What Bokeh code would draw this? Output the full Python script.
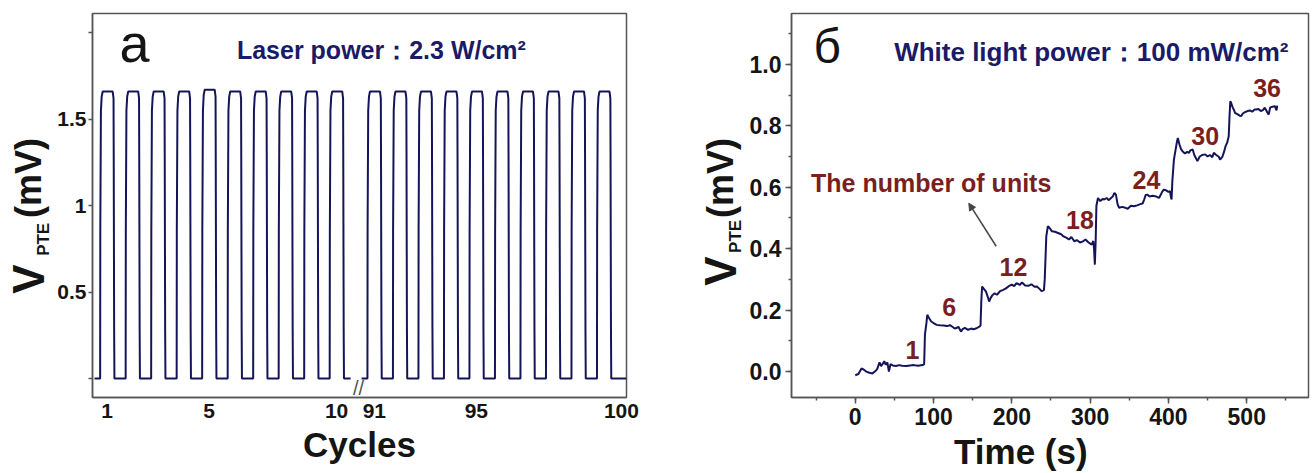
import math
from bokeh.plotting import figure
from bokeh.layouts import row
from bokeh.models import (Range1d, FixedTicker, Arrow, NormalHead,
                          SingleIntervalTicker, NumeralTickFormatter)
from bokeh.core.properties import value
from bokeh.embed import file_html
from bokeh.resources import INLINE

# ---------------- data: panel a (square-wave cycling) ----------------
left_cycles = [1, 2, 3, 4, 5, 6, 7, 8, 9, 10]
right_cycles = [91, 92, 93, 94, 95, 96, 97, 98, 99, 100]
left_on_mv = [1.66, 1.66, 1.66, 1.66, 1.67, 1.66, 1.66, 1.66, 1.66, 1.66]
right_on_mv = [1.66, 1.66, 1.66, 1.66, 1.66, 1.66, 1.66, 1.66, 1.66, 1.66]
off_mv = 0.0
xtick_cycles = [1, 5, 10, 91, 95, 100]
xtick_labels_a = ["1", "5", "10", "91", "95", "100"]
ytick_a = [0.5, 1, 1.5]
ytick_a_labels = ["0.5", "1", "1.5"]
ytick_a_minor = [0, 2]

# ---------------- data: panel b (staircase) ----------------
time_s = [0, 4, 8, 11, 14, 18, 22, 25, 28, 31, 33, 35, 37, 39, 41, 43, 45, 48, 52, 56,
          60, 65, 70, 75, 80, 86, 88, 89, 91, 92, 94, 97, 100, 104, 108, 113, 117, 121, 124, 127,
          129, 132, 135, 137, 140, 144, 148, 151, 155, 159, 160, 161, 162, 164, 167, 169, 171, 173, 175, 178,
          181, 185, 189, 192, 196, 200, 203, 206, 210, 213, 217, 221, 225, 229, 232, 235, 238, 241, 242, 244,
          246, 248, 251, 255, 259, 263, 266, 270, 273, 276, 280, 283, 287, 291, 294, 298, 302, 304, 305, 306,
          307, 308, 310, 313, 316, 318, 321, 324, 327, 329, 331, 333, 335, 337, 341, 345, 348, 352, 356, 360,
          364, 367, 369, 371, 373, 376, 380, 383, 386, 388, 390, 392, 394, 397, 400, 402, 403, 404, 405, 407,
          409, 411, 412, 414, 416, 418, 421, 424, 426, 428, 431, 433, 435, 437, 440, 443, 447, 450, 453, 456,
          458, 461, 464, 466, 469, 471, 473, 475, 477, 478, 479, 480, 482, 484, 485, 488, 491, 493, 495, 498,
          501, 504, 507, 510, 512, 515, 518, 521, 523, 525, 527, 528, 530, 533, 536, 538, 539]
vpte_mv = [-0.012, -0.008, 0.010, 0.006, 0.000, -0.004, -0.006, 0.000, 0.008, 0.030, 0.018, 0.025, 0.034, 0.022, 0.030, 0.000, 0.024, 0.020, 0.018, 0.021,
           0.019, 0.018, 0.020, 0.021, 0.019, 0.021, 0.024, 0.120, 0.160, 0.185, 0.175, 0.163, 0.158, 0.152, 0.151, 0.150, 0.148, 0.151, 0.146, 0.140,
           0.142, 0.145, 0.130, 0.138, 0.142, 0.136, 0.140, 0.138, 0.141, 0.147, 0.150, 0.230, 0.277, 0.270, 0.260, 0.245, 0.228, 0.240, 0.248, 0.255,
           0.250, 0.262, 0.266, 0.270, 0.278, 0.283, 0.278, 0.288, 0.282, 0.290, 0.280, 0.279, 0.284, 0.276, 0.277, 0.270, 0.262, 0.265, 0.300, 0.440,
           0.473, 0.468, 0.457, 0.455, 0.451, 0.447, 0.440, 0.435, 0.430, 0.438, 0.424, 0.428, 0.420, 0.424, 0.430, 0.420, 0.413, 0.425, 0.400, 0.348,
           0.420, 0.540, 0.565, 0.555, 0.562, 0.560, 0.565, 0.558, 0.566, 0.570, 0.582, 0.575, 0.545, 0.533, 0.536, 0.533, 0.530, 0.540, 0.538, 0.541,
           0.545, 0.547, 0.560, 0.575, 0.576, 0.570, 0.572, 0.571, 0.568, 0.565, 0.575, 0.585, 0.592, 0.590, 0.585, 0.587, 0.570, 0.560, 0.620, 0.690,
           0.720, 0.750, 0.760, 0.740, 0.725, 0.717, 0.710, 0.715, 0.712, 0.720, 0.723, 0.705, 0.695, 0.685, 0.700, 0.705, 0.707, 0.700, 0.705, 0.698,
           0.712, 0.705, 0.700, 0.690, 0.700, 0.715, 0.734, 0.745, 0.766, 0.830, 0.880, 0.875, 0.860, 0.850, 0.842, 0.838, 0.833, 0.832, 0.840, 0.845,
           0.848, 0.850, 0.846, 0.853, 0.853, 0.855, 0.848, 0.852, 0.859, 0.850, 0.840, 0.837, 0.860, 0.862, 0.864, 0.850, 0.866]
unit_counts = ["1", "6", "12", "18", "24", "30", "36"]
unit_label_t = [73, 120, 202, 287, 372, 447, 526]
unit_label_v = [0.07, 0.21, 0.34, 0.495, 0.625, 0.766, 0.924]

# ---------------- styles / geometry ----------------
NAVY = "#1a1a66"
LINE = "#141458"
DARKRED = "#7a1e1e"
FRAME = "#555555"
TXT = "#151515"
FONT = "Liberation Sans"
H = 473
TOP, BOT = 13, 398             # shared frame top / bottom (page px); frames in a row align

SA_W = 54                      # strip with panel-a y title
A_W = 606                      # panel a figure
SB_W = 86                      # strip with panel-b y title
B_W = 1314 - SA_W - A_W - SB_W  # panel b figure

A_L, A_R = 90, 626
A_PER = 25.6
A_Y0, A_YS = 379, 173.4
xa0, xa1 = 0.0, (A_R - A_L) / A_PER

def pa_x(px):
    return (px - A_L) / A_PER

def pa_y(py):
    return (A_Y0 - py) / A_YS

B_L, B_R = 789, 1308
B_X0, B_XS = 853, 0.786
B_Y0, B_YS = 372, 308.0

def pb_x(px):
    return (px - B_X0) / B_XS

def pb_y(py):
    return (B_Y0 - py) / B_YS

LEFT_START, RIGHT_START = 0.30, 10.78

def cyc_pos(c):
    if c <= left_cycles[-1]:
        return (c - left_cycles[0]) + LEFT_START
    return (c - right_cycles[0]) + RIGHT_START

def build_wave(cycles, levels, x_begin, x_end):
    xs, ys = [x_begin], [off_mv]
    for c, h in zip(cycles, levels):
        r = cyc_pos(c)
        shape = [(0.0, off_mv), (0.006, 0.85), (0.03, 1.55), (0.06, h - 0.03), (0.10, h),
                 (0.49, h), (0.525, h - 0.04), (0.532, 1.30), (0.548, 0.30), (0.56, off_mv)]
        for dx, v in shape:
            xs.append(r + dx)
            ys.append(v)
    xs.append(x_end)
    ys.append(off_mv)
    return xs, ys

def add_text(p, x, y, text, size, color=TXT, style="bold", align="center",
             baseline="middle", angle=0.0):
    p.text(x=[x], y=[y], text=[text], text_font=value(FONT), text_font_size=value(f"{size}px"),
           text_font_style=style, text_color=color, text_align=align,
           text_baseline=baseline, angle=angle)

def strip(width):
    s = figure(width=width, height=H, output_backend="svg", toolbar_location=None,
               x_range=Range1d(0, width), y_range=Range1d(H - BOT, H - TOP),
               x_axis_type=None, y_axis_type=None, min_border=0,
               min_border_left=0, min_border_right=0, min_border_top=TOP, min_border_bottom=H - BOT)
    s.outline_line_color = None
    s.background_fill_color = "white"
    s.border_fill_color = "white"
    return s

# ---------------- panel a ----------------
pa = figure(width=A_W, height=H, output_backend="svg", toolbar_location=None,
            x_range=Range1d(xa0, xa1), y_range=Range1d(pa_y(BOT), pa_y(TOP)),
            min_border_left=A_L - SA_W, min_border_right=SA_W + A_W - A_R,
            min_border_top=TOP, min_border_bottom=H - BOT)
lx, ly = build_wave(left_cycles, left_on_mv, 0.08, 10.12)
rx, ry = build_wave(right_cycles, right_on_mv, 10.55, xa1)
pa.line(lx, ly, line_color=LINE, line_width=2)
pa.line(rx, ry, line_color=LINE, line_width=2)

tick_pos_a = [cyc_pos(c) + 0.27 if c != right_cycles[-1] else xa1 - 0.2 for c in xtick_cycles]
pa.xaxis.ticker = FixedTicker(ticks=tick_pos_a)
pa.xaxis.major_label_overrides = {t: l for t, l in zip(tick_pos_a, xtick_labels_a)}
pa.yaxis.ticker = FixedTicker(ticks=ytick_a, minor_ticks=ytick_a_minor)
pa.yaxis.major_label_overrides = {t: l for t, l in zip(ytick_a, ytick_a_labels)}
pa.xaxis.major_tick_out = 0
pa.xaxis.major_tick_in = 0
pa.xaxis.minor_tick_out = 0
pa.yaxis.major_tick_out = 4
pa.yaxis.major_tick_in = 0
pa.yaxis.minor_tick_out = 4
pa.yaxis.minor_tick_in = 0
pa.xaxis.axis_label = "Cycles"

# ---------------- panel b ----------------
pb = figure(width=B_W, height=H, output_backend="svg", toolbar_location=None,
            x_range=Range1d(pb_x(B_L), pb_x(B_R)), y_range=Range1d(pb_y(BOT), pb_y(TOP)),
            min_border_left=B_L - (SA_W + A_W + SB_W), min_border_right=1314 - B_R,
            min_border_top=TOP, min_border_bottom=H - BOT)
pb.line(time_s, vpte_mv, line_color=LINE, line_width=2)
pb.xaxis.ticker = SingleIntervalTicker(interval=100, num_minor_ticks=2)
pb.yaxis.ticker = SingleIntervalTicker(interval=0.2, num_minor_ticks=2)
pb.yaxis.formatter = NumeralTickFormatter(format="0.0")
for ax in (pb.xaxis, pb.yaxis):
    ax.major_tick_out = 6
    ax.major_tick_in = 0
    ax.minor_tick_out = 3
    ax.minor_tick_in = 0
# trailing no-break spaces shift the centred title a little left, as in the reference
pb.xaxis.axis_label = "Time (s)" + "\u00a0" * 6

for p, tsize in ((pa, 21), (pb, 23)):
    p.grid.visible = False
    p.outline_line_color = FRAME
    p.outline_line_width = 1.5
    p.background_fill_color = "white"
    p.border_fill_color = "white"
    for ax in (p.xaxis, p.yaxis):
        ax.axis_line_color = FRAME
        ax.axis_line_width = 1.5
        ax.major_tick_line_color = FRAME
        ax.minor_tick_line_color = FRAME
        ax.major_tick_line_width = 1.5
        ax.minor_tick_line_width = 1.5
        ax.major_label_text_font = FONT
        ax.major_label_text_font_size = f"{tsize}px"
        ax.major_label_text_font_style = "bold"
        ax.major_label_text_color = TXT
    p.xaxis.axis_label_text_font = FONT
    p.xaxis.axis_label_text_font_size = "35px"
    p.xaxis.axis_label_text_font_style = "bold"
    p.xaxis.axis_label_text_color = TXT
    p.xaxis.axis_label_standoff = 4
pa.yaxis.major_label_standoff = 2
pb.yaxis.major_label_standoff = 4
pa.xaxis.major_label_standoff = 6
pb.xaxis.major_label_standoff = 4

# in-frame annotations panel a
add_text(pa, pa_x(117), pa_y(43), "a", 54, style="normal", align="left")
add_text(pa, pa_x(380), pa_y(50), "Laser power\uff1a2.3 W/cm\u00b2", 25, color=NAVY)
add_text(pa, pa_x(357), pa_y(388), "//", 20, color=FRAME, style="normal")

# in-frame annotations panel b
add_text(pb, pb_x(811), pb_y(46), "\u0431", 48, style="normal", align="left")
add_text(pb, pb_x(1090), pb_y(52), "White light power\uff1a100 mW/cm\u00b2", 26, color=NAVY)
add_text(pb, 97, 0.614, "The number of units", 25, color=DARKRED)
pb.text(x=unit_label_t, y=unit_label_v, text=unit_counts, text_font=value(FONT),
        text_font_size=value("25px"), text_font_style="bold", text_color=DARKRED,
        text_align="center", text_baseline="middle")
pb.add_layout(Arrow(x_start=180, y_start=0.408, x_end=145, y_end=0.548,
                    line_color="#444444", line_width=1.5,
                    end=NormalHead(size=7, fill_color="#444444", line_color="#444444")))

# y-axis titles (V with subscript PTE) drawn in narrow text strips (page px -> strip coords)
sa = strip(SA_W)
add_text(sa, 28, H - 294, "V", 44, align="left", angle=math.pi / 2)
add_text(sa, 43, H - 256, "PTE", 17, align="left", angle=math.pi / 2)
add_text(sa, 28, H - 218, "(mV)", 36, align="left", angle=math.pi / 2)

sb = strip(SB_W)
add_text(sb, 60, H - 286, "V", 44, align="left", angle=math.pi / 2)
add_text(sb, 75, H - 253, "PTE", 17, align="left", angle=math.pi / 2)
add_text(sb, 60, H - 218, "(mV)", 36, align="left", angle=math.pi / 2)

layout = row(sa, pa, sb, pb)
open("out.html", "w").write(file_html(layout, INLINE))
